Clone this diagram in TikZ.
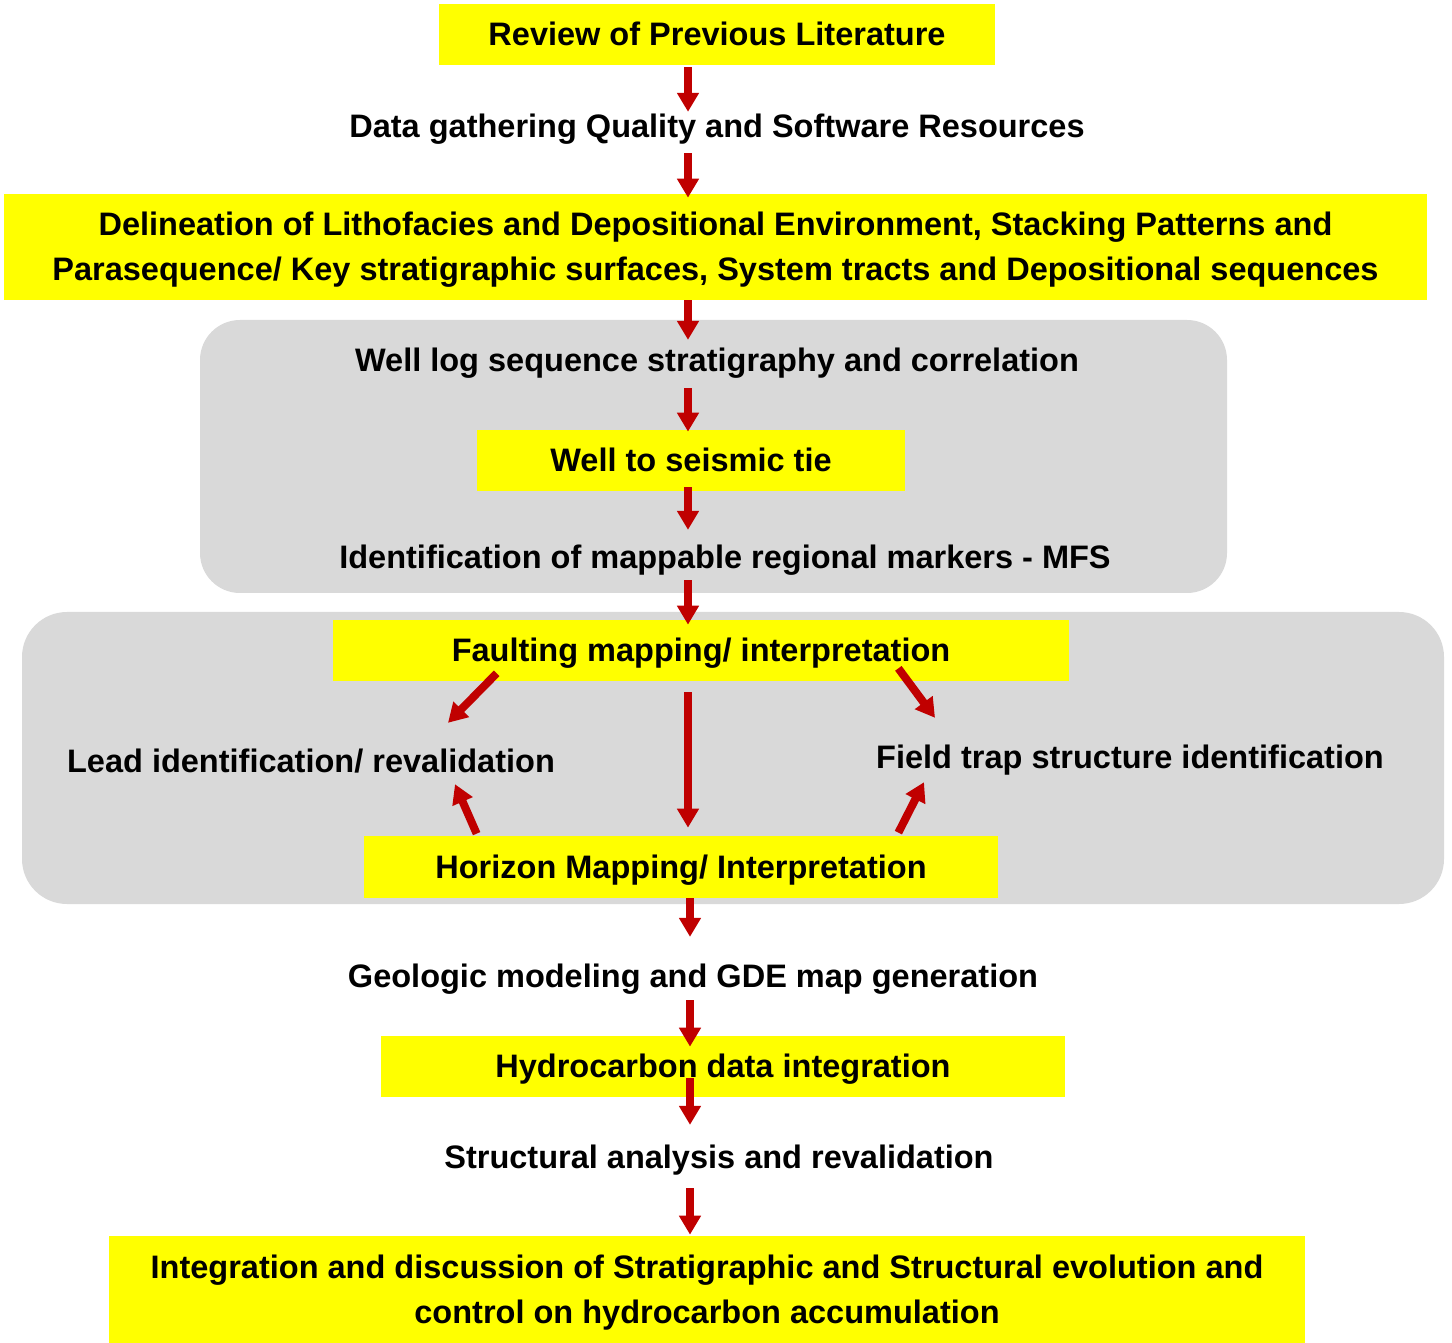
\documentclass[tikz,border=0pt]{standalone}
\usepackage{fontspec}
\setmainfont{Liberation Sans}
\usetikzlibrary{arrows.meta,calc}
\definecolor{boxyellow}{RGB}{255,255,0}
\definecolor{panelgray}{RGB}{217,217,217}
\definecolor{flowred}{RGB}{192,0,0}

\begin{document}
\begin{tikzpicture}[x=0.2mm,y=-0.2mm]
      \useasboundingbox (0,0) rectangle (1452,1343);
      \tikzset{every node/.style = {font=\fontsize{18.5}{25.6}\selectfont\bfseries,
                                    text height=16.6pt, text depth=3.7pt, inner sep=0pt},
               ybox/.style = {fill=boxyellow, align=center},
               ybox2/.style = {ybox, text height=42.2pt},
               flow/.style = {flowred, line width=1.6mm, -{Triangle[length=3.8mm,width=4.2mm]}}}

      % Panels
      \fill[panelgray, rounded corners=8mm] (200,320) rectangle (1227,593);
      \fill[panelgray, rounded corners=9mm] (22,612) rectangle (1444,904);

      % Boxes
      \node[ybox, minimum width=111.2mm, minimum height=12.2mm] (rev) at (717,34.5) {Review of Previous Literature};
      \node (dat) at (717,126) {Data gathering Quality and Software Resources};
      \node[ybox2, minimum width=284.6mm, minimum height=21.2mm] (delin) at (715.5,247)
            {Delineation of Lithofacies and Depositional Environment, Stacking Patterns and\\
             Parasequence/ Key stratigraphic surfaces, System tracts and Depositional sequences};
      \node (wlog) at (717,360) {Well log sequence stratigraphy and correlation};
      \node[ybox, minimum width=85.6mm, minimum height=12.2mm] (tie) at (691,460.5) {Well to seismic tie};
      \node (ident) at (725,557) {Identification of mappable regional markers - MFS};
      \node[ybox, minimum width=147.2mm, minimum height=12.2mm] (fault) at (701,650.5) {Faulting mapping/ interpretation};
      \node (lead) at (311,761) {Lead identification/ revalidation};
      \node (field) at (1130,757) {Field trap structure identification};
      \node[ybox, minimum width=126.8mm, minimum height=12.4mm] (hor) at (681,867) {Horizon Mapping/ Interpretation};
      \node (geo) at (693,976) {Geologic modeling and GDE map generation};
      \node[ybox, minimum width=136.8mm, minimum height=12.2mm] (hc) at (723,1066.5) {Hydrocarbon data integration};
      \node (struct) at (719,1157) {Structural analysis and revalidation};
      \node[ybox2, minimum width=239.2mm, minimum height=21.4mm] (integ) at (707,1289.5)
            {Integration and discussion of Stratigraphic and Structural evolution and\\
             control on hydrocarbon accumulation};

      % Arrows
      \coordinate (ax) at (688,0);
      \coordinate (bx) at (690,0);
      \draw[flow] ($(rev.south -| ax)+(0,2)$) -- ($(dat.north -| ax)+(0,4)$);
      \draw[flow] ($(dat.south -| ax)+(0,9)$) -- ($(delin.north -| ax)+(0,4)$);
      \draw[flow] (delin.south -| ax) -- ($(wlog.north -| ax)+(0,-2)$);
      \draw[flow] ($(wlog.south -| ax)+(0,10)$) -- ($(tie.north -| ax)+(0,2)$);
      \draw[flow] ($(tie.south -| ax)+(0,-4)$) -- ($(ident.north -| ax)+(0,-9)$);
      \draw[flow] ($(ident.south -| ax)+(0,5)$) -- ($(fault.north -| ax)+(0,5)$);
      \draw[flow] ($(fault.south -| ax)+(0,11)$) -- ($(hor.north -| ax)+(0,-8)$);
      \draw[flow] ([shift={(164,-8)}]fault.south west) -- ([shift={(137,-20)}]lead.north);
      \draw[flow] ([shift={(-171,-13)}]fault.south east) -- ([shift={(-195,-21)}]field.north);
      \draw[flow] ([shift={(113,-2)}]hor.north west) -- ([shift={(144,5)}]lead.south);
      \draw[flow] ([shift={(-100,-3)}]hor.north east) -- ([shift={(-206,7)}]field.south);
      \draw[flow] (hor.south -| bx) -- ($(geo.north -| bx)+(0,-21)$);
      \draw[flow] ($(geo.south -| bx)+(0,6)$) -- ($(hc.north -| bx)+(0,11)$);
      \draw[flow] ($(hc.south -| bx)+(0,-19)$) -- ($(struct.north -| bx)+(0,-14)$);
      \draw[flow] ($(struct.south -| bx)+(0,13)$) -- ($(integ.north -| bx)+(0,-1)$);
\end{tikzpicture}
\end{document}
